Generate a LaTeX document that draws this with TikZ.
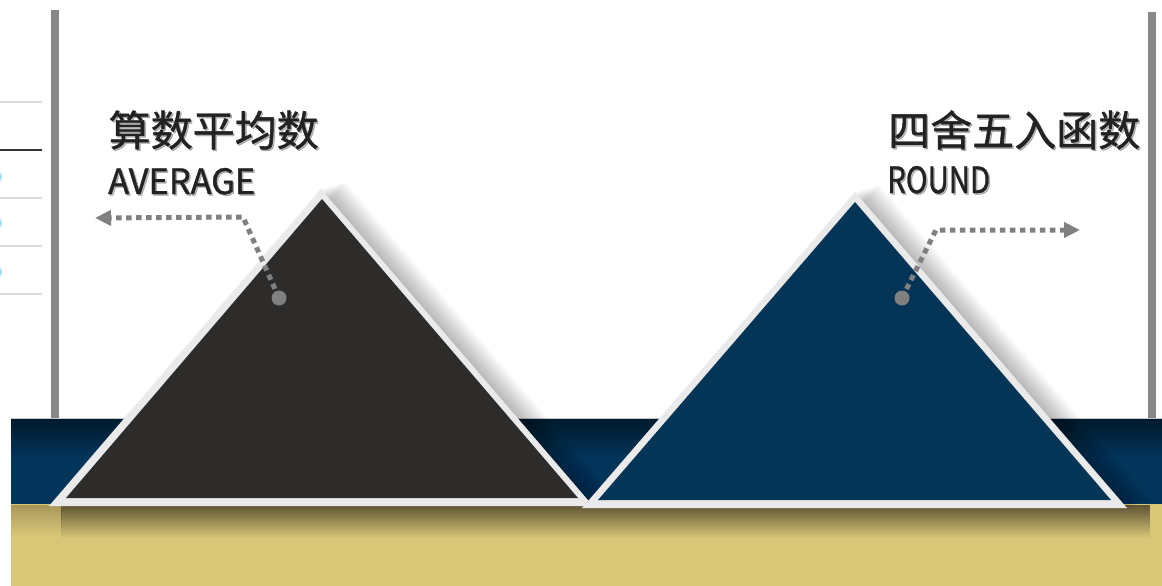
\documentclass[tikz,border=0pt]{standalone}
\usepackage{fontspec}
\usepackage{graphicx}
\newfontfamily\cjk{Noto Sans CJK SC}[FakeBold=1.0]
\usetikzlibrary{arrows.meta,fadings}
\definecolor{bordc}{HTML}{EAEAEA}
\definecolor{darktri}{HTML}{2D2C2A}
\definecolor{bluetri}{HTML}{043456}
\definecolor{bandblue}{HTML}{03345A}
\definecolor{bandtop}{HTML}{001A2C}
\definecolor{gold}{HTML}{D9C778}
\definecolor{shadowc}{HTML}{4A4128}
\definecolor{linegray}{HTML}{888888}
\definecolor{conngray}{HTML}{808080}
\definecolor{txtc}{HTML}{222222}
\definecolor{lightrule}{HTML}{D9D9D9}
\definecolor{cyanbit}{HTML}{A6E0F8}
\tikzfading[name=fadedown, top color=transparent!0, bottom color=transparent!100]
\tikzset{
  cntitle/.style={inner sep=0pt, anchor=base west, text=txtc, font=\cjk\fontsize{42}{42}\selectfont},
  entitle/.style={inner sep=0pt, anchor=base west, text=txtc, font=\cjk},
  txtshadow/.style={text=black, opacity=0.28},
  conn/.style={draw=conngray, line width=5pt, dash pattern=on 5.5pt off 4.5pt, -{Triangle[length=16pt,width=15pt]}},
  dotc/.style={circle, fill=conngray, minimum size=15pt, inner sep=0pt},
  vbar/.style={draw=linegray, line width=8pt},
  lrule/.style={draw=lightrule, line width=1.3pt},
  drule/.style={draw=black!80, line width=1.3pt}
}
\begin{document}
\begin{tikzpicture}[x=1pt,y=-1pt]
\useasboundingbox (0,0) rectangle (1162,586);
\fill[white] (0,0) rectangle (1162,586);

% left edge rules and partial marks
\draw[lrule] (0,102) -- (42,102);
\draw[drule] (0,150) -- (42,150);
\draw[lrule] (0,198) -- (42,198);
\draw[lrule] (0,246) -- (42,246);
\draw[lrule] (0,294) -- (42,294);
\foreach \yy in {177,223,272} \fill[cyanbit] (-4,\yy) circle (6);

% vertical bars
\draw[vbar] (55,10) -- (55,419);
\draw[vbar] (1152,12) -- (1152,419);

% bands
\fill[bandblue] (11,418) rectangle (1162,505);
\shade[top color=bandtop, bottom color=bandblue] (11,418) rectangle (1162,458);
\draw[black!22, line width=1pt] (11,418) -- (1162,418);
\fill[gold] (11,504) rectangle (1162,586);
\fill[shadowc, path fading=fadedown, fill opacity=0.85] (62,505) rectangle (1152,538);
\fill[shadowc, path fading=fadedown, fill opacity=0.35] (11,505) rectangle (62,536);

% soft shadows of triangles
\foreach \k in {1,...,12}{
  \fill[black, opacity=0.022] (321+\k*2,189-\k*0.6) -- (593+\k*2,506-\k*0.6) -- (49+\k*2,506-\k*0.6) -- cycle;
}
% left triangle
\coordinate (LA) at (321,189);
\coordinate (LR) at (593,506);
\coordinate (LL) at (49,506);
\fill[bordc] (LA) -- (LR) -- (LL) -- cycle;
\coordinate (la) at (322,199);
\coordinate (lr) at (578,498);
\coordinate (ll) at (66,498);
\fill[darktri] (la) -- (lr) -- (ll) -- cycle;

\foreach \k in {1,...,12}{
  \fill[black, opacity=0.022] (855+\k*2,192-\k*0.6) -- (1127+\k*2,508-\k*0.6) -- (582+\k*2,508-\k*0.6) -- cycle;
}
% right triangle
\coordinate (RA) at (855,192);
\coordinate (RR) at (1127,508);
\coordinate (RL) at (582,508);
\fill[bordc] (RA) -- (RR) -- (RL) -- cycle;
\coordinate (ra) at (855,202);
\coordinate (rr) at (1111,500);
\coordinate (rl) at (598,500);
\fill[bluetri] (ra) -- (rr) -- (rl) -- cycle;

% texts (with soft shadows)
\node[cntitle, txtshadow] (cnAs) at (110,147.5) {算数平均数};
\node[cntitle] (cnA) at (108.5,146) {算数平均数};
\node[entitle, txtshadow] (enAs) at (109.5,195.5) {\resizebox{147pt}{26pt}{AVERAGE}};
\node[entitle] (enA) at (108,194) {\resizebox{147pt}{26pt}{AVERAGE}};

\node[cntitle, txtshadow] (cnBs) at (889.5,147.5) {四舍五入函数};
\node[cntitle] (cnB) at (888,146) {四舍五入函数};
\node[entitle, txtshadow] (enBs) at (888.5,194.5) {\resizebox{103pt}{27pt}{ROUND}};
\node[entitle] (enB) at (887,193) {\resizebox{103pt}{27pt}{ROUND}};

% connectors
\node[dotc] (dA) at (279,298) {};
\coordinate (cA) at (243,217);
\coordinate (tA) at (95,218);
\draw[conn] (dA.center) -- (cA) -- (tA);

\node[dotc] (dB) at (902,298) {};
\coordinate (cB) at (936,230);
\coordinate (tB) at (1080,230);
\draw[conn] (dB.center) -- (cB) -- (tB);
\end{tikzpicture}
\end{document}
